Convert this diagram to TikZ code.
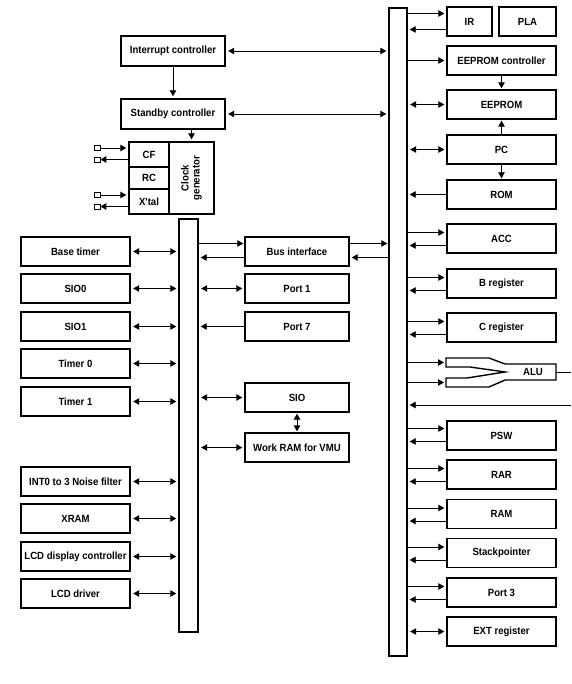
\documentclass[tikz,border=0pt]{standalone}
\usepackage{fontspec}
\newfontfamily\blockfont{Liberation Sans}[FakeStretch=0.92]
\usetikzlibrary{arrows.meta,calc}

\tikzset{
    blk/.style={draw, line width=1.4pt, minimum width=109pt, minimum height=29pt, inner sep=0pt},
    midblk/.style={blk, minimum width=104pt},
    bus/.style={draw, line width=1.4pt, inner sep=0pt},
    arr/.style={line width=0.9pt, -{Triangle[length=6pt,width=6.5pt]}, shorten >=2pt},
    darr/.style={line width=0.9pt, {Triangle[length=6pt,width=6.5pt]}-{Triangle[length=6pt,width=6.5pt]}, shorten <=2.5pt, shorten >=2pt},
    pad/.style={draw, line width=0.8pt, minimum width=6pt, minimum height=5pt, inner sep=0pt}
}

\begin{document}
\begin{tikzpicture}[x=1pt, y=-1pt, font=\blockfont\bfseries\fontsize{10.4}{11}\selectfont]
    \useasboundingbox (0,0) rectangle (571,684);

    % Buses
    \node [bus, minimum width=18pt, minimum height=648pt] (mbus) at (398,332) {};
    \node [bus, minimum width=19pt, minimum height=413pt] (lbus) at (188.5,425.5) {};

    % Control
    \node [midblk, minimum height=30pt] (intc) at (173,51) {Interrupt controller};
    \node [midblk, minimum height=30pt] (stby) at (173,114) {Standby controller};
    \draw [arr] (intc.south) -- (stby.north);
    \draw [darr] (intc.east) -- (intc.east -| mbus.west);
    \draw [darr] (stby.east) -- (stby.east -| mbus.west);

    % Clock generator
    \node [draw, line width=1.4pt, minimum width=40pt, minimum height=25pt, inner sep=0pt] (cf) at (149,154.5) {CF};
    \node [draw, line width=1.4pt, minimum width=40pt, minimum height=22pt, inner sep=0pt] (rc) at (149,178) {RC};
    \node [draw, line width=1.4pt, minimum width=40pt, minimum height=25pt, inner sep=0pt] (xtal) at (149,201.5) {X'tal};
    \node [draw, line width=1.4pt, minimum width=45pt, minimum height=72pt, inner sep=0pt] (clkgen) at (191.5,178) {};
    \node [rotate=90, align=center] (clktxt) at (clkgen) {Clock\\generator};
    \draw [arr] (clkgen.north |- stby.south) -- (clkgen.north);
    \node [pad] (cfin) at (97,148) {};
    \node [pad] (cfout) at (97,159.5) {};
    \node [pad] (xin) at (97,195) {};
    \node [pad] (xout) at (97,206.5) {};
    \draw [arr] (cfin.east) -- (cfin.east -| cf.west);
    \draw [arr, shorten >=0pt] (cfout.east -| cf.west) -- (cfout.east);
    \draw [arr] (xin.east) -- (xin.east -| xtal.west);
    \draw [arr, shorten >=0pt] (xout.east -| xtal.west) -- (xout.east);

    % Peripherals on the left bus
    \node [blk] (base) at (75.5,251.5) {Base timer};
    \node [blk] (sio0) at (75.5,288.5) {SIO0};
    \node [blk] (sio1) at (75.5,326.5) {SIO1};
    \node [blk] (tim0) at (75.5,363.5) {Timer 0};
    \node [blk] (tim1) at (75.5,401.5) {Timer 1};
    \node [blk] (intf) at (75.5,481.5) {INT0 to 3 Noise filter};
    \node [blk] (xram) at (75.5,518.5) {XRAM};
    \node [blk] (lcdc) at (75.5,556.5) {LCD display controller};
    \node [blk] (lcdd) at (75.5,593.5) {LCD driver};
    \draw [darr] (base.east) -- (base.east -| lbus.west);
    \draw [darr] (sio0.east) -- (sio0.east -| lbus.west);
    \draw [darr] (sio1.east) -- (sio1.east -| lbus.west);
    \draw [darr] (tim0.east) -- (tim0.east -| lbus.west);
    \draw [darr] (tim1.east) -- (tim1.east -| lbus.west);
    \draw [darr] (intf.east) -- (intf.east -| lbus.west);
    \draw [darr] (xram.east) -- (xram.east -| lbus.west);
    \draw [darr] (lcdc.east) -- (lcdc.east -| lbus.west);
    \draw [darr] (lcdd.east) -- (lcdd.east -| lbus.west);

    % Middle column
    \node [midblk] (busif) at (297,251.5) {Bus interface};
    \node [midblk] (port1) at (297,288.5) {Port 1};
    \node [midblk] (port7) at (297,326.5) {Port 7};
    \node [midblk] (sio) at (297,397.5) {SIO};
    \node [midblk] (wram) at (297,447.5) {Work RAM for VMU};
    \draw [arr, shorten >=1pt] ([yshift=8pt]busif.west -| lbus.east) -- ([yshift=8pt]busif.west);
    \draw [arr] ([yshift=-6pt]busif.west) -- ([yshift=-6pt]busif.west -| lbus.east);
    \draw [arr, shorten >=1pt] ([yshift=8pt]busif.east) -- ([yshift=8pt]busif.east -| mbus.west);
    \draw [arr] ([yshift=-6pt]busif.east -| mbus.west) -- ([yshift=-6pt]busif.east);
    \draw [darr] (lbus.east |- port1.west) -- (port1.west);
    \draw [arr] (port7.west) -- (port7.west -| lbus.east);
    \draw [darr] (lbus.east |- sio.west) -- (sio.west);
    \draw [darr] (lbus.east |- wram.west) -- (wram.west);
    \draw [darr, shorten <=1pt, shorten >=1pt] (sio.south) -- (wram.north);

    % Right column
    \node [blk, minimum width=45pt] (ir) at (469.5,21.5) {IR};
    \node [blk, minimum width=57pt] (pla) at (527.5,21.5) {PLA};
    \node [blk] (eepc) at (501.5,60.5) {EEPROM controller};
    \node [blk] (eeprom) at (501.5,104.5) {EEPROM};
    \node [blk] (pc) at (501.5,149.5) {PC};
    \node [blk] (rom) at (501.5,194.5) {ROM};
    \node [blk] (acc) at (501.5,238.5) {ACC};
    \node [blk] (breg) at (501.5,283.5) {B register};
    \node [blk] (creg) at (501.5,327.5) {C register};
    \node [blk] (psw) at (501.5,435.5) {PSW};
    \node [blk] (rar) at (501.5,474.5) {RAR};
    \node [blk] (ram) at (501.5,514) {RAM};
    \node [blk] (sp) at (501.5,553) {Stackpointer};
    \node [blk] (port3) at (501.5,592.5) {Port 3};
    \node [blk] (ext) at (501.5,631.5) {EXT register};

    \draw [arr] ([yshift=8pt]ir.west -| mbus.east) -- ([yshift=8pt]ir.west);
    \draw [arr] ([yshift=-8pt]ir.west) -- ([yshift=-8pt]ir.west -| mbus.east);
    \draw [arr] (eepc.west -| mbus.east) -- (eepc.west);
    \draw [arr, shorten >=1pt] (eepc.south) -- (eeprom.north);
    \draw [darr] (eeprom.west -| mbus.east) -- (eeprom.west);
    \draw [arr, shorten >=1pt] (pc.north) -- (eeprom.south);
    \draw [darr] (pc.west -| mbus.east) -- (pc.west);
    \draw [arr, shorten >=1pt] (pc.south) -- (rom.north);
    \draw [arr] (rom.west) -- (rom.west -| mbus.east);

    \draw [arr] ([yshift=6pt]acc.west -| mbus.east) -- ([yshift=6pt]acc.west);
    \draw [arr] ([yshift=-7pt]acc.west) -- ([yshift=-7pt]acc.west -| mbus.east);
    \draw [arr] ([yshift=6pt]breg.west -| mbus.east) -- ([yshift=6pt]breg.west);
    \draw [arr] ([yshift=-7pt]breg.west) -- ([yshift=-7pt]breg.west -| mbus.east);
    \draw [arr] ([yshift=6pt]creg.west -| mbus.east) -- ([yshift=6pt]creg.west);
    \draw [arr] ([yshift=-7pt]creg.west) -- ([yshift=-7pt]creg.west -| mbus.east);

    % ALU
    \draw [line width=1.4pt] (446,358) -- (489,358) -- (505,364) -- (556,364) -- (556,380) -- (505,380)
        -- (489,387) -- (446,387) -- (446,378) -- (467,378) -- (505,372) -- (470,367) -- (446,367) -- cycle;
    \node (alu) at (533,372) {ALU};
    \coordinate (aluin1) at (446,362.5);
    \coordinate (aluin2) at (446,382.5);
    \coordinate (aluout) at (556,372);
    \coordinate (aluend) at (571,372);
    \coordinate (flagin) at (571,405);
    \draw [arr] (aluin1 -| mbus.east) -- (aluin1);
    \draw [arr] (aluin2 -| mbus.east) -- (aluin2);
    \draw [line width=0.9pt] (aluout) -- (aluend);
    \draw [arr] (flagin) -- (flagin -| mbus.east);

    \draw [arr] ([yshift=7pt]psw.west -| mbus.east) -- ([yshift=7pt]psw.west);
    \draw [arr] ([yshift=-6pt]psw.west) -- ([yshift=-6pt]psw.west -| mbus.east);
    \draw [arr] ([yshift=6pt]rar.west -| mbus.east) -- ([yshift=6pt]rar.west);
    \draw [arr] ([yshift=-7pt]rar.west) -- ([yshift=-7pt]rar.west -| mbus.east);
    \draw [arr] ([yshift=6pt]ram.west -| mbus.east) -- ([yshift=6pt]ram.west);
    \draw [arr] ([yshift=-7pt]ram.west) -- ([yshift=-7pt]ram.west -| mbus.east);
    \draw [arr] ([yshift=6pt]sp.west -| mbus.east) -- ([yshift=6pt]sp.west);
    \draw [arr] ([yshift=-7pt]sp.west) -- ([yshift=-7pt]sp.west -| mbus.east);
    \draw [arr] ([yshift=6pt]port3.west -| mbus.east) -- ([yshift=6pt]port3.west);
    \draw [arr] ([yshift=-7pt]port3.west) -- ([yshift=-7pt]port3.west -| mbus.east);
    \draw [darr] (ext.west -| mbus.east) -- (ext.west);
\end{tikzpicture}
\end{document}
